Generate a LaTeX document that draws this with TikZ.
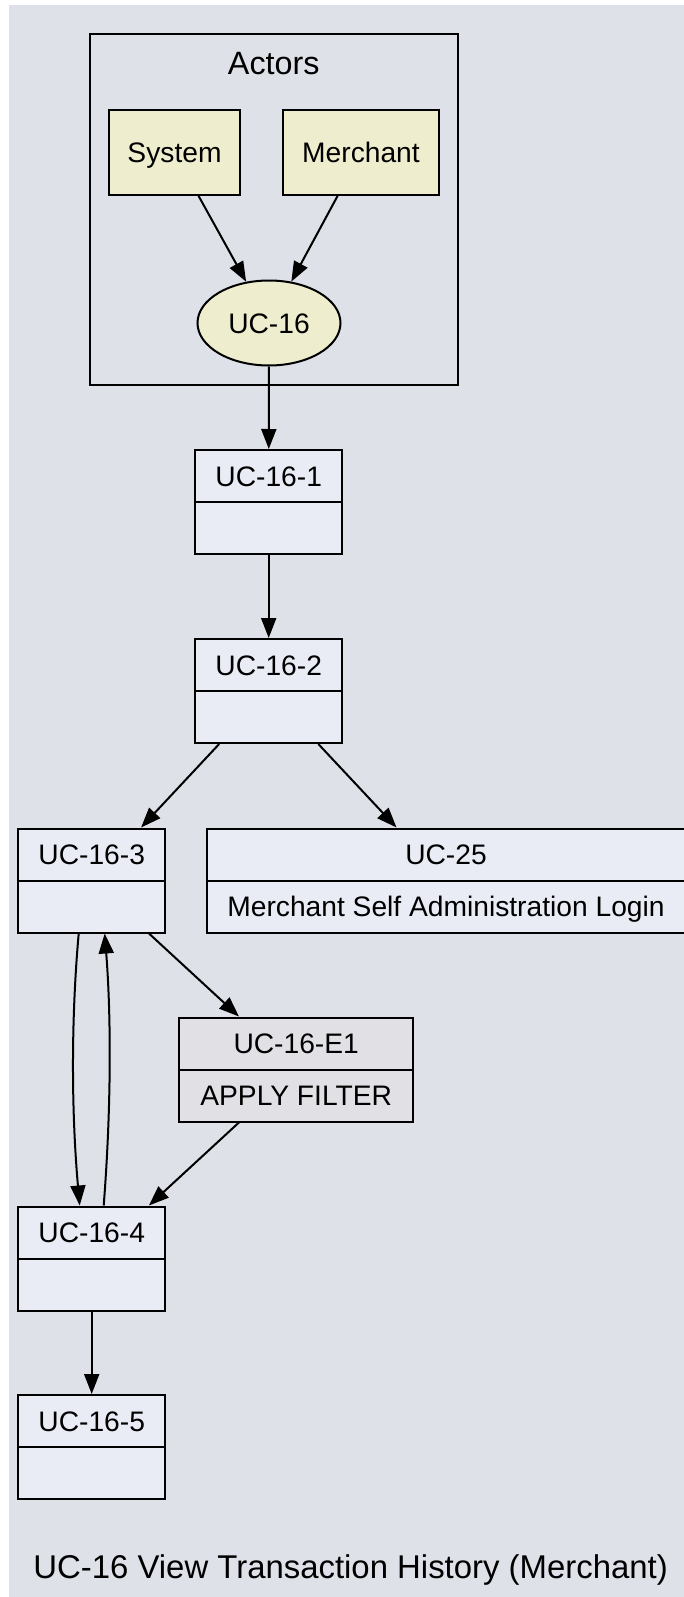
\documentclass[tikz,border=0pt]{standalone}
\usepackage{fontspec}
\setmainfont{Liberation Sans}
\usetikzlibrary{arrows.meta,shapes.geometric}
\definecolor{bgc}{RGB}{222,225,232}
\definecolor{boxc}{RGB}{233,236,245}
\definecolor{actc}{RGB}{238,238,206}
\definecolor{exc}{RGB}{225,224,228}
\newcommand\ndfont{\fontsize{28.2pt}{33pt}\selectfont}
\newcommand\lbfont{\fontsize{32.3pt}{38pt}\selectfont}
\newcommand\capfont{\fontsize{32.9pt}{38pt}\selectfont}
\tikzset{
  rec/.style={draw, line width=2pt, minimum height=104pt, inner sep=0pt},
  actbox/.style={draw, line width=2pt, fill=actc, minimum height=85pt, inner sep=0pt,
    text height=20.2pt, text depth=0pt, font=\ndfont},
  txt/.style={inner sep=0pt, outer sep=0pt, text height=20.2pt, text depth=0pt, font=\ndfont},
  lbl/.style={inner sep=0pt, outer sep=0pt, text height=23.1pt, text depth=0pt, font=\lbfont},
  arr/.style={line width=2pt, -{Triangle[length=20pt,width=15pt]}}
}
\newcommand\ucrec[6]{%
  \node[rec, fill=#5, minimum width=#4] (#1) at (#2,#3) {};
  \draw[line width=2pt] (#1.west) -- (#1.east);
  \node[txt] (#1-t) at ([yshift=26pt]#1.center) {#6};
}
\newcommand\ucsub[2]{%
  \node[txt] (#1-b) at ([yshift=-26pt]#1.center) {#2};
}
\begin{document}
\begin{tikzpicture}[x=1pt,y=-1pt]
\useasboundingbox (0,0) rectangle (683,1597);
\fill[white] (0,0) rectangle (683,1597);
\fill[bgc] (9,5) rectangle (692,1600);
% cluster
\draw[line width=2pt] (89.5,34.5) rectangle (458,384.5);
\node[lbl] (actorslbl) at (273.75,63) {Actors};
\node[actbox, minimum width=131pt] (sys) at (174.5,152.5) {System};
\node[actbox, minimum width=156pt] (mer) at (361,152.5) {Merchant};
\node[actbox, ellipse, minimum width=143pt] (uc16) at (269,323) {UC-16};
% records
\ucrec{u1}{268.7}{502}{146.6pt}{boxc}{UC-16-1}
\ucrec{u2}{268.7}{691}{146.6pt}{boxc}{UC-16-2}
\ucrec{u3}{91.7}{880.5}{147pt}{boxc}{UC-16-3}
\ucrec{u25}{446}{880.5}{477.7pt}{boxc}{UC-25}
\ucsub{u25}{Merchant Self Administration Login}
\ucrec{e1}{296.2}{1069.5}{233.5pt}{exc}{UC-16-E1}
\ucsub{e1}{APPLY FILTER}
\ucrec{u4}{91.7}{1258.5}{147pt}{boxc}{UC-16-4}
\ucrec{u5}{91.7}{1447}{147pt}{boxc}{UC-16-5}
% edges
\draw[arr] (sys) -- (uc16);
\draw[arr] (mer) -- (uc16);
\draw[arr] (uc16) -- (u1);
\draw[arr] (u1) -- (u2);
\draw[arr] (u2) -- (u3);
\draw[arr] (u2) -- (u25);
\draw[arr] (u3) -- (e1);
\draw[arr] (e1) -- (u4);
\draw[arr] ([xshift=-13pt]u3.south) .. controls +(-8,90) and +(-8,-90) .. ([xshift=-12pt]u4.north);
\draw[arr] ([xshift=12pt]u4.north) .. controls +(7,-90) and +(7,90) .. ([xshift=13pt]u3.south);
\draw[arr] (u4) -- (u5);
% caption
\node[lbl, font=\capfont] (caption) at (350.6,1567) {UC-16 View Transaction History (Merchant)};
\end{tikzpicture}
\end{document}
